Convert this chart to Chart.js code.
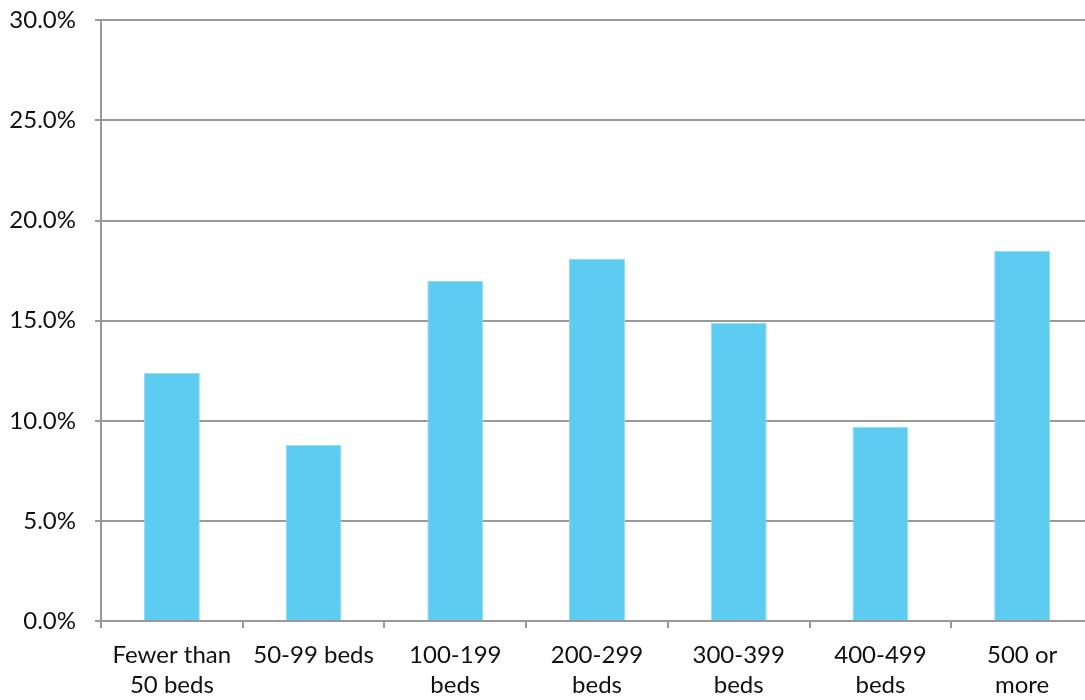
<!DOCTYPE html>
<html>
<head>
<meta charset="utf-8">
<script src="https://cdn.jsdelivr.net/npm/chart.js@4"></script>
<style>
html,body{margin:0;padding:0;background:#fff;overflow:hidden;}
#wrap{width:1100px;height:713px;position:relative;top:-13px;}
</style>
</head>
<body>
<div id="wrap"><canvas id="c"></canvas></div>
<script>
const categories = [["Fewer than","50 beds"],["50-99 beds"],["100-199","beds"],["200-299","beds"],["300-399","beds"],["400-499","beds"],["500 or","more"]];
const values = [12.4, 8.8, 17.0, 18.1, 14.9, 9.7, 18.5];
const yTicks = [0, 5, 10, 15, 20, 25, 30];

const FONT = "Lato, 'Open Sans', sans-serif";
new Chart(document.getElementById('c'), {
  type: 'bar',
  data: {
    labels: categories,
    datasets: [{
      data: values,
      backgroundColor: '#5ecbf1',
      borderColor: '#8fdcf6',
      borderWidth: 1,
      barPercentage: 0.395,
      categoryPercentage: 1.0
    }]
  },
  options: {
    responsive: true,
    maintainAspectRatio: false,
    animation: false,
    layout: { padding: { top: 8, right: 7, left: 0, bottom: 0 } },
    plugins: { legend: { display: false }, tooltip: { enabled: false } },
    scales: {
      x: {
        grid: { display: true, drawOnChartArea: false, drawTicks: true, tickLength: 7, color: '#999', lineWidth: 2, offset: true },
        border: { display: true, color: '#999', width: 2 },
        ticks: { color: '#111', font: { family: FONT, size: 24, lineHeight: 1.25 }, padding: 12, maxRotation: 0, autoSkip: false },
        afterFit: (s) => { s.height = 79; }
      },
      y: {
        min: 0, max: 30,
        afterBuildTicks: (s) => { s.ticks = yTicks.map(v => ({ value: v })); },
        grid: { color: '#999', lineWidth: 2, tickLength: 6, drawTicks: true },
        border: { display: true, color: '#999', width: 2 },
        ticks: { color: '#111', font: { family: FONT, size: 24 }, padding: 19, callback: (v) => v.toFixed(1) + '%' },
        afterFit: (s) => { s.width = 101; }
      }
    }
  }
});
</script>
</body>
</html>
